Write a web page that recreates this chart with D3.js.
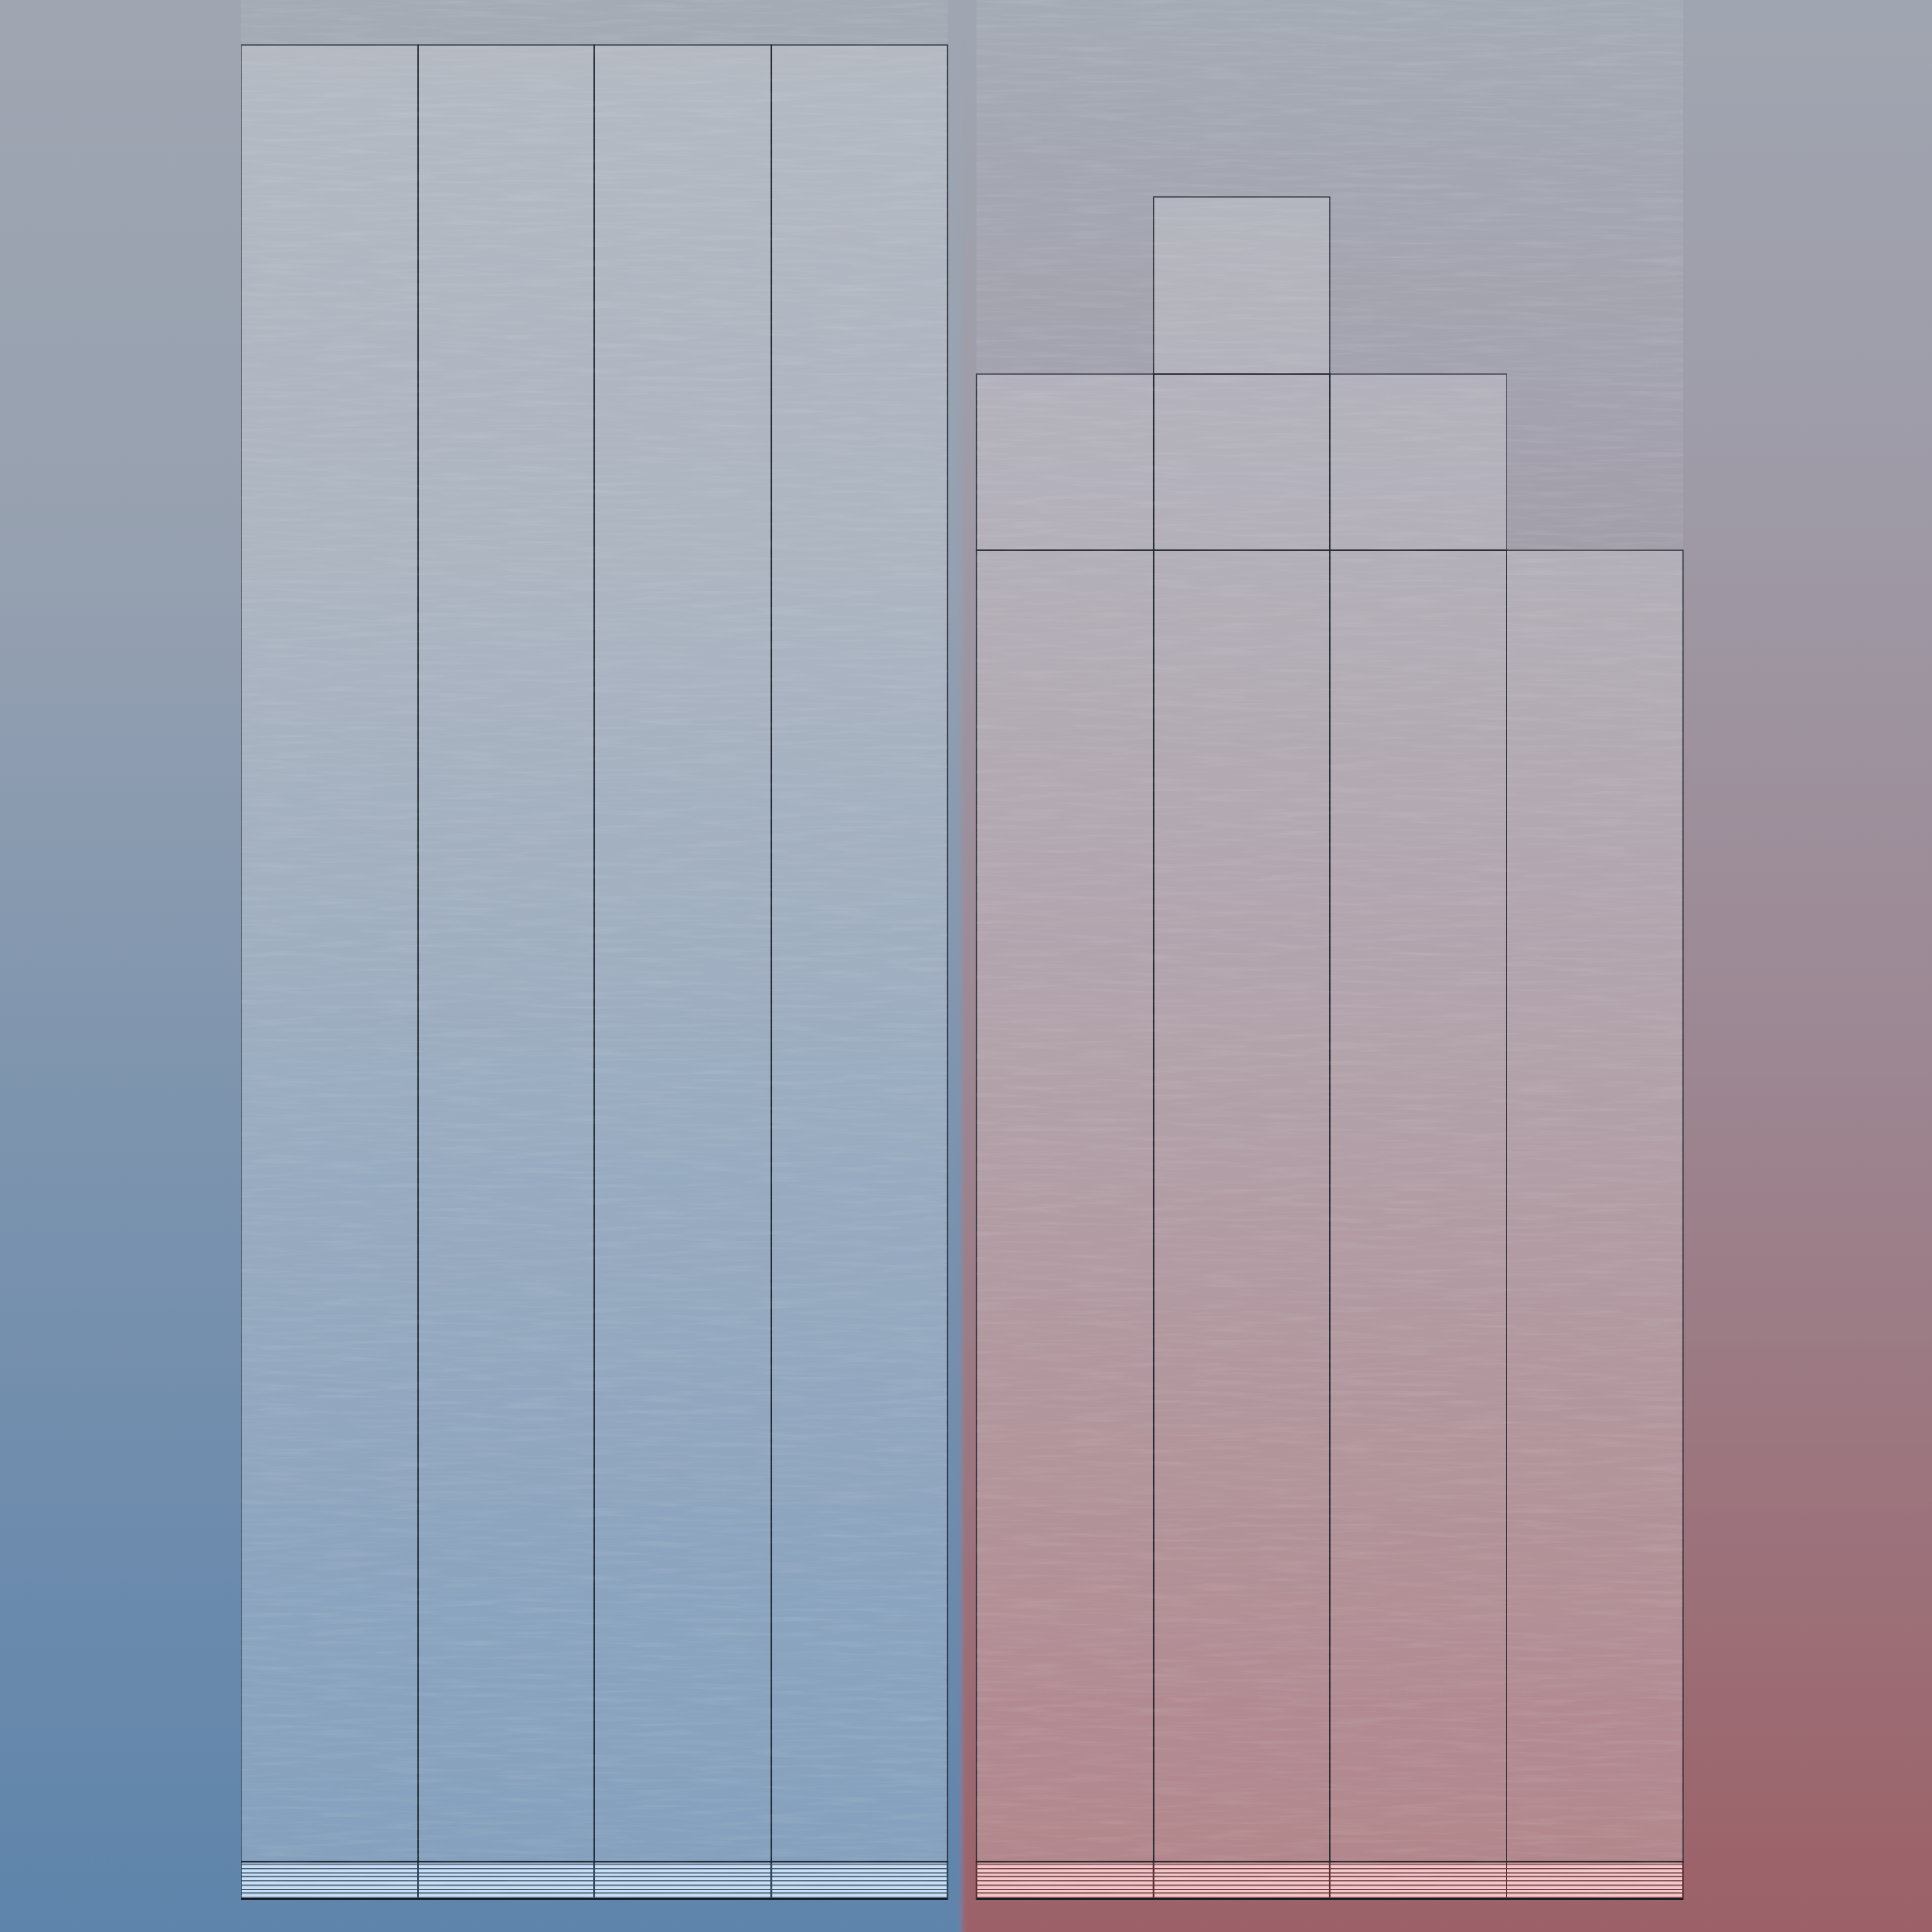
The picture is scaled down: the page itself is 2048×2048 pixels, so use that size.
<!DOCTYPE html>
<html>
<head>
<meta charset="utf-8">
<script src="https://cdn.jsdelivr.net/npm/d3@7"></script>
<style>
  html, body { margin: 0; padding: 0; background: #8a95a5; }
  svg { display: block; }
</style>
</head>
<body>
<script>
// ---- data ----
const groups = ["Blue", "Red"];
const subcats = ["A", "B", "C", "D"];
const blueBase   = [2.1, 2.1, 2.1, 2.1];
const blueMain   = [102.9, 102.9, 102.9, 102.9];
const blueUpper1 = [0, 0, 0, 0];
const blueUpper2 = [0, 0, 0, 0];
const redBase    = [2.1, 2.1, 2.1, 2.1];
const redMain    = [74.3, 74.3, 74.3, 74.3];
const redUpper1  = [10, 10, 10, 0];
const redUpper2  = [0, 10, 0, 0];
const yMax = 105;

const W = 2048, H = 2048;
const svg = d3.select("body").append("svg").attr("width", W).attr("height", H);
const defs = svg.append("defs");

// gradients
function vgrad(id, stops) {
  const g = defs.append("linearGradient").attr("id", id)
    .attr("x1", 0).attr("y1", 0).attr("x2", 0).attr("y2", 1);
  stops.forEach(s => g.append("stop").attr("offset", s[0]).attr("stop-color", s[1]));
}
vgrad("bgBlue", [[0, "#a0a6b1"], [0.3, "#95a0b0"], [0.6, "#7b93ae"], [1, "#5f84ab"]]);
vgrad("bgRed",  [[0, "#a0a6b1"], [0.25, "#9e9ba7"], [0.55, "#9c8792"], [1, "#9c6168"]]);

// stripe patterns for base segment
function stripes(id, fill, line) {
  const p = defs.append("pattern").attr("id", id).attr("patternUnits", "userSpaceOnUse")
    .attr("width", 10).attr("height", 4.4);
  p.append("rect").attr("width", 10).attr("height", 4.4).attr("fill", fill);
  p.append("rect").attr("y", 0).attr("width", 10).attr("height", 1.2).attr("fill", line);
}
stripes("stripeBlue", "#c7def3", "#3e566f");
stripes("stripeRed", "#f4c6c8", "#6a3c42");

// noise texture filter
const f = defs.append("filter").attr("id", "noise")
  .attr("x", 0).attr("y", 0).attr("width", "100%").attr("height", "100%")
  .attr("filterUnits", "objectBoundingBox");
f.append("feTurbulence").attr("type", "fractalNoise")
  .attr("baseFrequency", "0.015 0.2").attr("numOctaves", 3).attr("seed", 7).attr("result", "t");
f.append("feColorMatrix").attr("in", "t").attr("type", "matrix")
  .attr("values", "0 0 0 0 1  0 0 0 0 1  0 0 0 0 1  1.8 0 0 0 -0.8");

const edge = defs.append("filter").attr("id", "soft").attr("x", "-5%").attr("width", "110%");
edge.append("feGaussianBlur").attr("stdDeviation", "2.5 0");

// scales
const x0 = d3.scaleBand().domain(groups).range([256, 1784]).paddingInner(0.0398);
const x1 = d3.scaleBand().domain(subcats).range([0, x0.bandwidth()]).padding(0);
const y = d3.scaleLinear().domain([0, yMax]).range([2013, 48]);

// background halves
const split = (x0("Blue") + x0.bandwidth() + x0("Red")) / 2;
const bgG = svg.append("g").attr("filter", "url(#soft)");
bgG.append("rect").attr("x", -20).attr("y", 0).attr("width", split + 20).attr("height", H).attr("fill", "url(#bgBlue)");
bgG.append("rect").attr("x", split).attr("y", 0).attr("width", W - split + 20).attr("height", H).attr("fill", "url(#bgRed)");

// build series
const seriesData = {
  Blue: [blueBase, blueMain, blueUpper1, blueUpper2],
  Red:  [redBase, redMain, redUpper1, redUpper2]
};
const segs = [];
groups.forEach(g => {
  subcats.forEach((c, i) => {
    let acc = 0;
    seriesData[g].forEach((arr, k) => {
      const v = arr[i];
      if (v > 0) segs.push({ g, c, k, y0: acc, y1: acc + v });
      acc += v;
    });
  });
});

// tracks
const tracks = svg.append("g");
groups.forEach(g => {
  tracks.append("rect").attr("x", x0(g)).attr("y", 0)
    .attr("width", x0.bandwidth()).attr("height", y(0))
    .attr("fill", "#ffffff").attr("fill-opacity", 0.06);
});

// bar fills
const bars = svg.append("g");
bars.selectAll("rect.fill").data(segs.filter(d => d.k > 0)).join("rect")
  .attr("class", "fill")
  .attr("x", d => x0(d.g) + x1(d.c))
  .attr("y", d => y(d.y1))
  .attr("width", x1.bandwidth())
  .attr("height", d => y(d.y0) - y(d.y1))
  .attr("fill", "#ffffff").attr("fill-opacity", 0.18);

// noise overlay on tracks
groups.forEach(g => {
  svg.append("rect").attr("x", x0(g)).attr("y", 0)
    .attr("width", x0.bandwidth()).attr("height", y(0))
    .attr("filter", "url(#noise)").attr("opacity", 0.1);
});

// base stripes
bars.selectAll("rect.base").data(segs.filter(d => d.k === 0)).join("rect")
  .attr("class", "base")
  .attr("x", d => x0(d.g) + x1(d.c))
  .attr("y", d => y(d.y1))
  .attr("width", x1.bandwidth())
  .attr("height", d => y(d.y0) - y(d.y1))
  .attr("fill", d => d.g === "Blue" ? "url(#stripeBlue)" : "url(#stripeRed)")
  .attr("stroke", d => d.g === "Blue" ? "#2f4459" : "#5a3036")
  .attr("stroke-width", 1.6);

// strokes
bars.selectAll("rect.stroke").data(segs.filter(d => d.k > 0)).join("rect")
  .attr("class", "stroke")
  .attr("x", d => x0(d.g) + x1(d.c))
  .attr("y", d => y(d.y1))
  .attr("width", x1.bandwidth())
  .attr("height", d => y(d.y0) - y(d.y1))
  .attr("fill", "none")
  .attr("stroke", "#1f262e").attr("stroke-opacity", 0.8).attr("stroke-width", 1.3);

// outer bottom edge
groups.forEach(g => {
  svg.append("line").attr("x1", x0(g)).attr("x2", x0(g) + x0.bandwidth())
    .attr("y1", y(0)).attr("y2", y(0))
    .attr("stroke", "#1a1f25").attr("stroke-width", 2);
});
</script>
</body>
</html>
